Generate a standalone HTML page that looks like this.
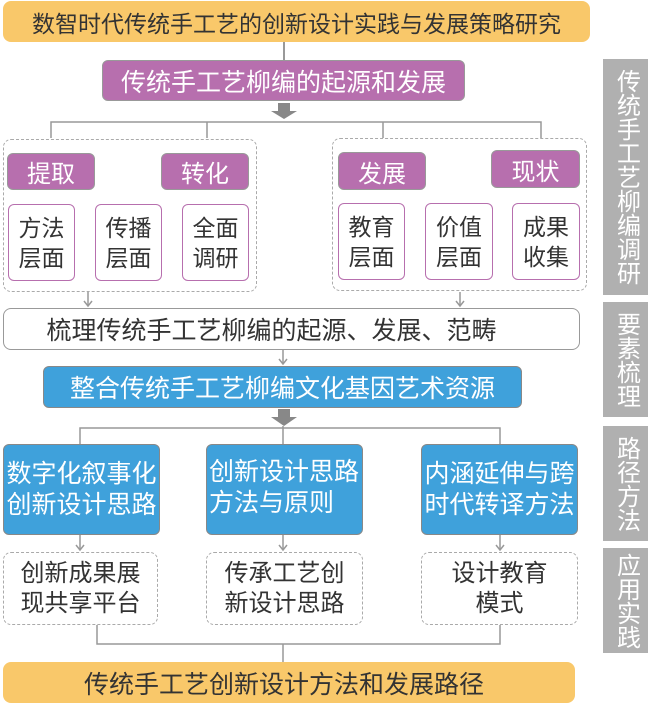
<!DOCTYPE html><html><head><meta charset="utf-8"><style>
body{margin:0;width:650px;height:704px;background:#fff;position:relative;overflow:hidden;font-family:"Liberation Sans","Noto Sans CJK SC",sans-serif;}
div{position:absolute;box-sizing:border-box;white-space:nowrap;}
.c{display:flex;align-items:center;justify-content:center;text-align:center;}
.or{background:#f9c86a;border-radius:8px;color:#333;}
.pu{background:#b76fae;color:#fff;border-radius:6px;border:1.5px solid #999;}
.wb{background:#fff;border:1.5px solid #b76fae;border-radius:6px;font-size:23px;line-height:30px;color:#333;}
.dash{border:1.5px dashed #aaa;border-radius:8px;}
.bl{background:#3fa1db;color:#fff;border-radius:6px;border:1.5px solid #888;}
.side{background:#b0b0b0;color:#fff;font-size:24px;line-height:26px;writing-mode:vertical-rl;}
</style></head><body>
<div class="or c" style="left:3px;top:1px;width:587px;height:41px;font-size:23px">数智时代传统手工艺的创新设计实践与发展策略研究</div>
<div style="left:283px;top:42px;width:1.5px;height:18px;background:#999"></div>
<div class="pu c" style="left:102px;top:60px;width:363px;height:41px;font-size:25px">传统手工艺柳编的起源和发展</div>
<svg style="position:absolute;left:0;top:0" width="650" height="704">
<g fill="#888"><polygon points="278,103 290,103 290,111 297,111 284,119 271,111 278,111"/>
<polygon points="278,409 290,409 290,417 297,417 284,426 271,417 278,417"/></g>
<g stroke="#999" stroke-width="1.5" fill="none">
<path d="M51,138V122H541V138M207,122V138M383,122V138"/>
<path d="M88,292V306M460,292V306M283,350V364M80,444V428H500V444M283,426V444M80,535V550M283,535V550M500,535V550"/>
<path d="M97,625V644H500V625M283,644V662"/>
<path d="M84,301L88,306L92,301M456,301L460,306L464,301M279,359L283,364L287,359M76,545L80,550L84,545M279,545L283,550L287,545M496,545L500,550L504,545"/>
</g></svg>
<div class="dash" style="left:3px;top:139px;width:254px;height:153px"></div>
<div class="dash" style="left:332px;top:138px;width:255px;height:153px"></div>
<div class="pu c" style="left:7px;top:153px;width:88px;height:37px;font-size:24px">提取</div>
<div class="pu c" style="left:161px;top:153px;width:88px;height:37px;font-size:24px">转化</div>
<div class="pu c" style="left:338px;top:152px;width:88px;height:38px;font-size:24px">发展</div>
<div class="pu c" style="left:491px;top:150px;width:89px;height:38px;font-size:24px">现状</div>
<div class="wb c" style="left:8px;top:204px;width:67px;height:77px">方法<br>层面</div>
<div class="wb c" style="left:95px;top:204px;width:67px;height:77px">传播<br>层面</div>
<div class="wb c" style="left:182px;top:204px;width:67px;height:77px">全面<br>调研</div>
<div class="wb c" style="left:338px;top:203px;width:67px;height:77px">教育<br>层面</div>
<div class="wb c" style="left:425px;top:203px;width:68px;height:77px">价值<br>层面</div>
<div class="wb c" style="left:512px;top:203px;width:68px;height:77px">成果<br>收集</div>
<div class="side c" style="left:603px;top:59px;width:45px;height:236px">传统手工艺柳编调研</div>
<div class="side c" style="left:603px;top:302px;width:45px;height:115px">要素梳理</div>
<div class="side c" style="left:603px;top:426px;width:45px;height:115px">路径方法</div>
<div class="side c" style="left:603px;top:548px;width:45px;height:105px">应用实践</div>
<div class="c" style="left:3px;top:308px;width:577px;height:42px;border:1.5px solid #999;border-radius:8px;font-size:25px;color:#333;padding-right:40px">梳理传统手工艺柳编的起源、发展、范畴</div>
<div class="bl c" style="left:43px;top:366px;width:479px;height:42px;font-size:25px">整合传统手工艺柳编文化基因艺术资源</div>
<div class="bl c" style="left:3px;top:444px;width:157px;height:91px;font-size:25px;line-height:31px">数字化叙事化<br>创新设计思路</div>
<div class="bl" style="left:206px;top:444px;width:157px;height:91px;font-size:25px;line-height:31px;padding:12px 0 0 2px;text-align:left">创新设计思路<br>方法与原则</div>
<div class="bl c" style="left:421px;top:444px;width:157px;height:91px;font-size:25px;line-height:31px">内涵延伸与跨<br>时代转译方法</div>
<div class="dash c" style="left:3px;top:552px;width:155px;height:73px;font-size:24px;line-height:30px;color:#333">创新成果展<br>现共享平台</div>
<div class="dash c" style="left:206px;top:552px;width:157px;height:73px;font-size:24px;line-height:30px;color:#333">传承工艺创<br>新设计思路</div>
<div class="dash c" style="left:421px;top:552px;width:157px;height:73px;font-size:24px;line-height:30px;color:#333">设计教育<br>模式</div>
<div class="or c" style="left:3px;top:662px;width:572px;height:41px;font-size:25px;padding-right:10px">传统手工艺创新设计方法和发展路径</div>
</body></html>
